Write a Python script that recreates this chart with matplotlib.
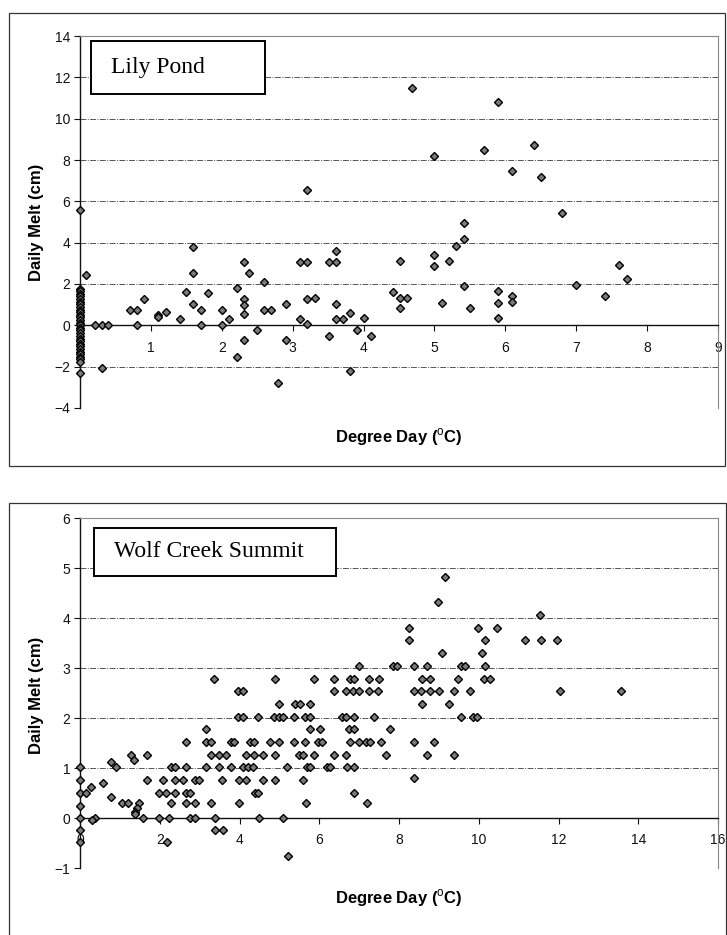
import matplotlib
matplotlib.use('Agg')
import matplotlib.pyplot as plt
from matplotlib.patches import Rectangle

plt.rcParams['font.family'] = ['Liberation Sans', 'DejaVu Sans']
plt.rcParams['mathtext.fontset'] = 'custom'
plt.rcParams['mathtext.rm'] = 'Liberation Sans'
plt.rcParams['mathtext.bf'] = 'Liberation Sans:bold'

# ---------------- Lily Pond data ----------------
lily_x = [0.0] * 31 + [
    0.09, 0.21, 0.31, 0.40, 0.31, 0.70, 0.80, 0.80, 0.90, 1.10, 1.10, 1.21, 1.41,
    1.50, 1.60, 1.60, 1.60, 1.70, 1.70, 1.80, 2.01, 2.01, 2.10, 2.21, 2.21, 2.31,
    2.31, 2.31, 2.31, 2.31, 2.39, 2.50, 2.60, 2.60, 2.70, 2.80, 2.91, 2.91, 3.10,
    3.20, 3.20, 3.10, 3.20, 3.20, 3.31, 3.51, 3.61, 3.61, 3.61, 3.61, 3.51, 3.71,
    3.81, 3.81, 3.91, 4.00, 4.11, 4.41, 4.52, 4.52, 4.52, 4.61, 4.69, 5.00, 5.00,
    5.00, 5.11, 5.21, 5.31, 5.41, 5.41, 5.41, 5.50, 5.70, 5.90, 5.90, 5.90, 5.90,
    6.10, 6.10, 6.10, 6.41, 6.50, 6.80, 7.00, 7.41, 7.60, 7.71]
lily_y = [5.59, 1.78, 1.65, 1.52, 1.40, 1.27, 1.14, 1.02, 0.89, 0.76, 0.64, 0.51,
          0.38, 0.25, 0.13, 0.00, -0.13, -0.25, -0.38, -0.51, -0.64, -0.76, -0.89,
          -1.02, -1.14, -1.27, -1.40, -1.52, -1.65, -1.78, -2.29] + [
    2.45, 0.00, 0.00, 0.00, -2.05, 0.75, 0.75, 0.00, 1.28, 0.50, 0.40, 0.65, 0.30,
    1.60, 3.80, 2.55, 1.05, 0.75, 0.02, 1.55, 0.75, 0.02, 0.30, 1.80, -1.53, 3.08,
    1.28, 1.00, 0.55, -0.70, 2.55, -0.25, 2.08, 0.75, 0.75, -2.78, 1.02, -0.70, 3.08,
    3.08, 6.57, 0.30, 1.28, 0.05, 1.33, 3.08, 3.08, 3.62, 1.05, 0.30, -0.50, 0.30,
    0.58, -2.22, -0.23, 0.36, -0.50, 1.60, 3.13, 1.33, 0.82, 1.33, 11.48, 8.21, 3.42,
    2.86, 1.10, 3.13, 3.86, 4.95, 4.16, 1.88, 0.84, 8.46, 10.80, 1.66, 1.10, 0.37,
    7.47, 1.43, 1.15, 8.73, 7.19, 5.45, 1.93, 1.41, 2.94, 2.22]

# ---------------- Wolf Creek Summit data (grouped by melt level) ----------------
wolf_levels = [4.83, 4.32, 4.06, 3.81, 3.56, 3.30, 3.05, 2.79, 2.54, 2.29, 2.03,
               1.78, 1.52, 1.27, 1.16, 1.12, 1.02, 0.81, 0.76, 0.70, 0.62, 0.51,
               0.42, 0.30, 0.25, 0.20, 0.13, 0.08, 0.00, -0.04, -0.23, -0.47, -0.75]
wolf_x_by_level = [
    [9.16],
    [8.98],
    [11.53],
    [8.26, 9.97, 10.47],
    [8.26, 10.16, 11.16, 11.56, 11.97],
    [9.07, 10.07],
    [6.99, 7.86, 7.95, 8.38, 8.69, 9.55, 9.66, 10.16],
    [3.36, 4.88, 5.87, 6.38, 6.76, 6.88, 7.24, 7.49, 8.58, 8.78, 9.48, 10.14, 10.28],
    [3.95, 4.08, 6.38, 6.67, 6.84, 6.99, 7.24, 7.48, 8.38, 8.56, 8.78, 9.00, 9.38,
     9.78, 12.05, 13.56],
    [4.98, 5.38, 5.51, 5.78, 8.58, 9.26],
    [3.95, 4.10, 4.47, 4.86, 4.98, 5.08, 5.37, 5.65, 5.78, 6.56, 6.66, 6.88, 7.37,
     9.56, 9.85, 9.95],
    [3.17, 5.77, 6.03, 6.74, 6.88, 7.78],
    [2.67, 3.17, 3.28, 3.79, 3.86, 4.27, 4.37, 4.77, 4.99, 5.37, 5.65, 5.97, 6.08,
     6.78, 7.00, 7.16, 7.27, 7.55, 8.38, 8.87],
    [1.27, 1.67, 3.28, 3.48, 3.67, 4.16, 4.37, 4.58, 4.88, 5.49, 5.59, 5.87, 6.38,
     6.67, 7.67, 8.69, 9.37],
    [1.36],
    [0.77],
    [0.00, 0.90, 2.28, 2.37, 2.67, 3.17, 3.48, 3.79, 4.09, 4.21, 4.34, 5.19, 5.69,
     5.78, 6.19, 6.28, 6.69, 6.88],
    [8.38],
    [0.00, 1.67, 2.07, 2.37, 2.58, 2.88, 2.99, 3.57, 3.98, 4.16, 4.58, 4.88, 5.58],
    [0.58],
    [0.27],
    [0.00, 0.16, 1.97, 2.16, 2.37, 2.67, 2.77, 4.38, 4.47, 6.88],
    [0.77],
    [1.06, 1.20, 1.48, 2.28, 2.67, 2.88, 3.28, 3.98, 5.67, 7.19],
    [0.00],
    [1.43],
    [1.37],
    [1.37],
    [0.00, 0.37, 1.58, 1.97, 2.24, 2.77, 2.88, 3.38, 4.49, 5.09],
    [0.29],
    [0.00, 3.38, 3.58],
    [0.00, 2.17],
    [5.21],
]
wolf_x = [x for xs in wolf_x_by_level for x in xs]
wolf_y = [lv for lv, xs in zip(wolf_levels, wolf_x_by_level) for _ in xs]

lily_xticks = list(range(0, 10))
lily_yticks = list(range(-4, 15, 2))
wolf_xticks = list(range(0, 17, 2))
wolf_yticks = list(range(-1, 7))

W, H = 727, 935
fig = plt.figure(figsize=(W / 100, H / 100), dpi=100)


def px_axes(left, top, right, bottom):
    return fig.add_axes([left / W, 1 - bottom / H, (right - left) / W, (bottom - top) / H])


def style(ax, xticks, yticks):
    ax.set_xlim(xticks[0], xticks[-1])
    ax.set_ylim(yticks[0], yticks[-1])
    ax.set_xticks(xticks)
    ax.set_yticks(yticks)
    ax.spines['bottom'].set_position(('data', 0))
    for s in ('bottom', 'left'):
        ax.spines[s].set_color('#111111')
        ax.spines[s].set_linewidth(1.0)
    for s in ('top', 'right'):
        ax.spines[s].set_color('#888888')
        ax.spines[s].set_linestyle((0, (1, 1)))
        ax.spines[s].set_linewidth(0.8)
    ax.grid(axis='y', linestyle=(0, (6, 1.5, 1, 1.5)), color='#555555', linewidth=0.7)
    ax.grid(axis='x', visible=False)
    ax.set_axisbelow(True)
    ax.tick_params(axis='x', direction='out', length=4, width=0.8, pad=7,
                   labelsize=10, colors='#111111')
    ax.tick_params(axis='y', direction='out', length=4, width=0.8, pad=3,
                   labelsize=10, colors='#111111')
    ax.set_facecolor('white')


def frame(left, top, right, bottom):
    fig.add_artist(Rectangle((left / W, 1 - bottom / H), (right - left) / W,
                             (bottom - top) / H, transform=fig.transFigure,
                             fill=False, edgecolor='#333333', linewidth=0.9))


def label_box(ax, x0, y0, x1, y1, tx, text):
    ax.add_patch(Rectangle((x0, y0), x1 - x0, y1 - y0, facecolor='white',
                           edgecolor='black', linewidth=1.4, zorder=4))
    ax.text(tx, (y0 + y1) / 2, text, family='Liberation Serif', fontsize=17,
            ha='left', va='center', zorder=5)


marker_kw = dict(linestyle='none', marker='D', markersize=4.0, markerfacecolor='#7a7a7a',
                 markeredgecolor='#000000', markeredgewidth=1.0, clip_on=False, zorder=3)

# ---------------- top chart ----------------
frame(9, 13, 725, 466)
ax1 = px_axes(80, 36, 718, 408)
style(ax1, lily_xticks, lily_yticks)
ax1.plot(lily_x, lily_y, **marker_kw)
label_box(ax1, 0.16, 11.2, 2.61, 13.77, 0.44, 'Lily Pond')
fig.text(37 / W, 1 - 222 / H, 'Daily Melt (cm)', rotation=90, ha='center', va='center',
         fontsize=12, fontweight='bold')
fig.text(399 / W, 1 - 437 / H, r'Degree Day ($^{\mathrm{o}}$C)', ha='center', va='center',
         fontsize=12, fontweight='bold')

# ---------------- bottom chart ----------------
frame(9, 503, 726, 945)
ax2 = px_axes(80, 518, 718, 868)
style(ax2, wolf_xticks, wolf_yticks)
ax2.plot(wolf_x, wolf_y, **marker_kw)
label_box(ax2, 0.36, 4.85, 6.43, 5.8, 0.86, 'Wolf Creek Summit')
fig.text(37 / W, 1 - 695 / H, 'Daily Melt (cm)', rotation=90, ha='center', va='center',
         fontsize=12, fontweight='bold')
fig.text(399 / W, 1 - 898 / H, r'Degree Day ($^{\mathrm{o}}$C)', ha='center', va='center',
         fontsize=12, fontweight='bold')

fig.savefig('out.png', dpi=100, facecolor='white')
